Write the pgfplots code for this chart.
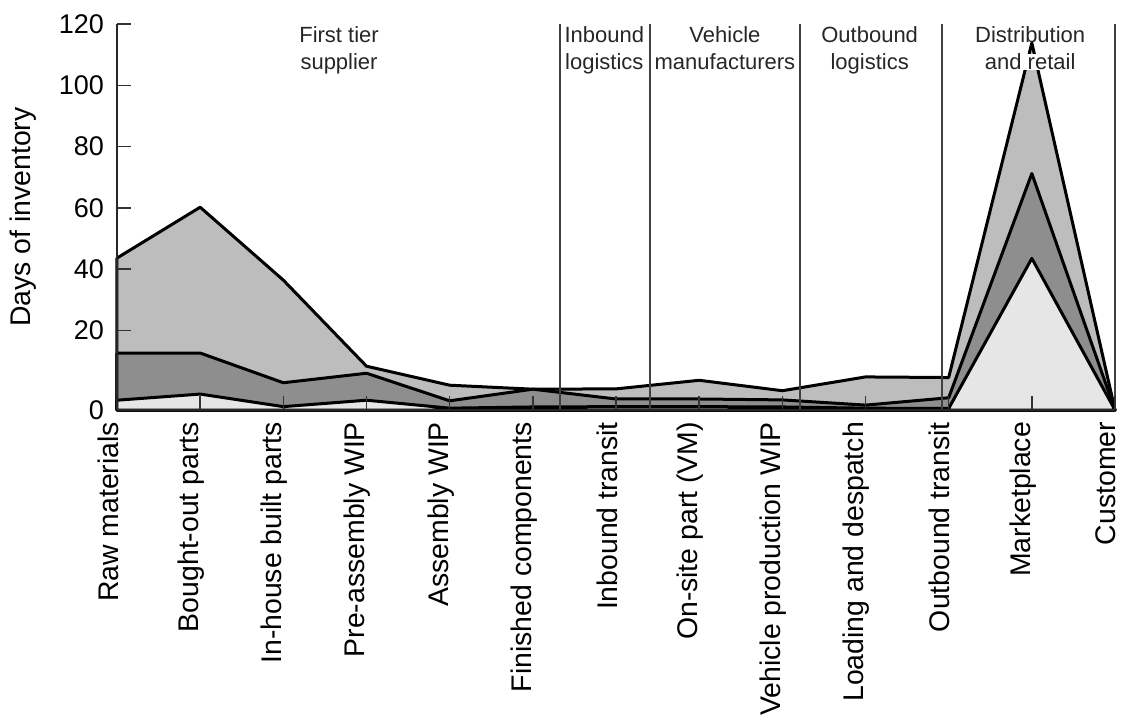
\documentclass[border=0pt]{standalone}
\usepackage{fontspec}
\setmainfont{Liberation Sans}
\usepackage{pgfplots}
\pgfplotsset{compat=1.18}
\definecolor{lone}{HTML}{E6E6E6}
\definecolor{ltwo}{HTML}{8E8E8E}
\definecolor{lthree}{HTML}{BDBDBD}
\begin{document}
\begin{tikzpicture}
\begin{axis}[
  name=ax,
  scale only axis,
  width=499pt, height=193pt,
  xmin=0, xmax=12, ymin=-6, ymax=120,
  axis x line*=bottom, axis y line*=left,
  axis line style={line width=1.1pt, black!85},
  tick align=inside,
  xtick={0,...,12},
  xticklabels={Raw materials, Bought-out parts, In-house built parts, Pre-assembly WIP, Assembly WIP, Finished components, Inbound transit, On-site part (VM), Vehicle production WIP, Loading and despatch, Outbound transit, Marketplace, Customer},
  xticklabel style={xshift=-4.5pt, yshift=-2.5pt, rotate=90, anchor=east, font=\fontsize{14.2}{16}\selectfont},
  ytick={-6,20,40,60,80,100,120},
  yticklabels={0,20,40,60,80,100,120},
  yticklabel style={font=\fontsize{13.5}{15}\selectfont, xshift=-3pt},
  /pgf/number format/assume math mode=true,
  major tick length=7pt,
  major tick style={line width=0.7pt, black!80},
  ylabel={Days of inventory},
  every axis y label/.style={at={(axis description cs:0,0.5)}, xshift=-47pt, rotate=90, anchor=center, font=\fontsize{14.2}{16}\selectfont},
  axis on top,
  clip=false,
]
% cumulative boundary tops (axis base at -6)
\addplot[fill=lthree, draw=black, line width=1.5pt, line join=round] coordinates {(0,43.6)(1,60.2)(2,36.4)(3,8.3)(4,2.1)(5,0.8)(6,0.9)(7,3.7)(8,0.3)(9,4.8)(10,4.6)(11,113.8)(12,-6)} -- (axis cs:0,-6) -- cycle;
\addplot[fill=ltwo, draw=black, line width=1.5pt, line join=round] coordinates {(0,12.6)(1,12.6)(2,2.9)(3,6.0)(4,-3.0)(5,0.8)(6,-2.4)(7,-2.4)(8,-2.7)(9,-4.4)(10,-2.0)(11,71.2)(12,-6)} -- (axis cs:0,-6) -- cycle;
\addplot[fill=lone, draw=black, line width=1.5pt, line join=round] coordinates {(0,-2.8)(1,-0.8)(2,-4.9)(3,-2.8)(4,-5.4)(5,-5.0)(6,-4.9)(7,-4.9)(8,-5.0)(9,-5.4)(10,-5.5)(11,43.5)(12,-6)} -- (axis cs:0,-6) -- cycle;

\draw[line width=0.9pt, black!75] (axis cs:5.33,-6) -- (axis cs:5.33,120);
\draw[line width=0.9pt, black!75] (axis cs:6.41,-6) -- (axis cs:6.41,120);
\draw[line width=0.9pt, black!75] (axis cs:8.21,-6) -- (axis cs:8.21,120);
\draw[line width=0.9pt, black!75] (axis cs:9.92,-6) -- (axis cs:9.92,120);
\draw[line width=0.9pt, black!75] (axis cs:12,-6) -- (axis cs:12,120);

\begin{scope}[every node/.style={font=\fontsize{11}{14}\selectfont, inner sep=0pt, anchor=base, text=black!85}]
\node at (axis cs:2.67,114.1) {First tier};
\node at (axis cs:2.67,105.0) {supplier};
\node at (axis cs:5.86,114.1) {Inbound};
\node at (axis cs:5.86,105.0) {logistics};
\node at (axis cs:7.31,114.1) {Vehicle};
\node at (axis cs:7.31,105.0) {manufacturers};
\node at (axis cs:9.05,114.1) {Outbound};
\node at (axis cs:9.05,105.0) {logistics};
\node[fill=white] at (axis cs:10.98,114.1) {Distribution};
\node[fill=white] at (axis cs:10.98,105.0) {and retail};
\end{scope}
\end{axis}
\pgfresetboundingbox
\path[use as bounding box] ([xshift=-58.5pt,yshift=-155pt]ax.south west) rectangle ([xshift=506pt,yshift=205pt]ax.south west);
\end{tikzpicture}
\end{document}
